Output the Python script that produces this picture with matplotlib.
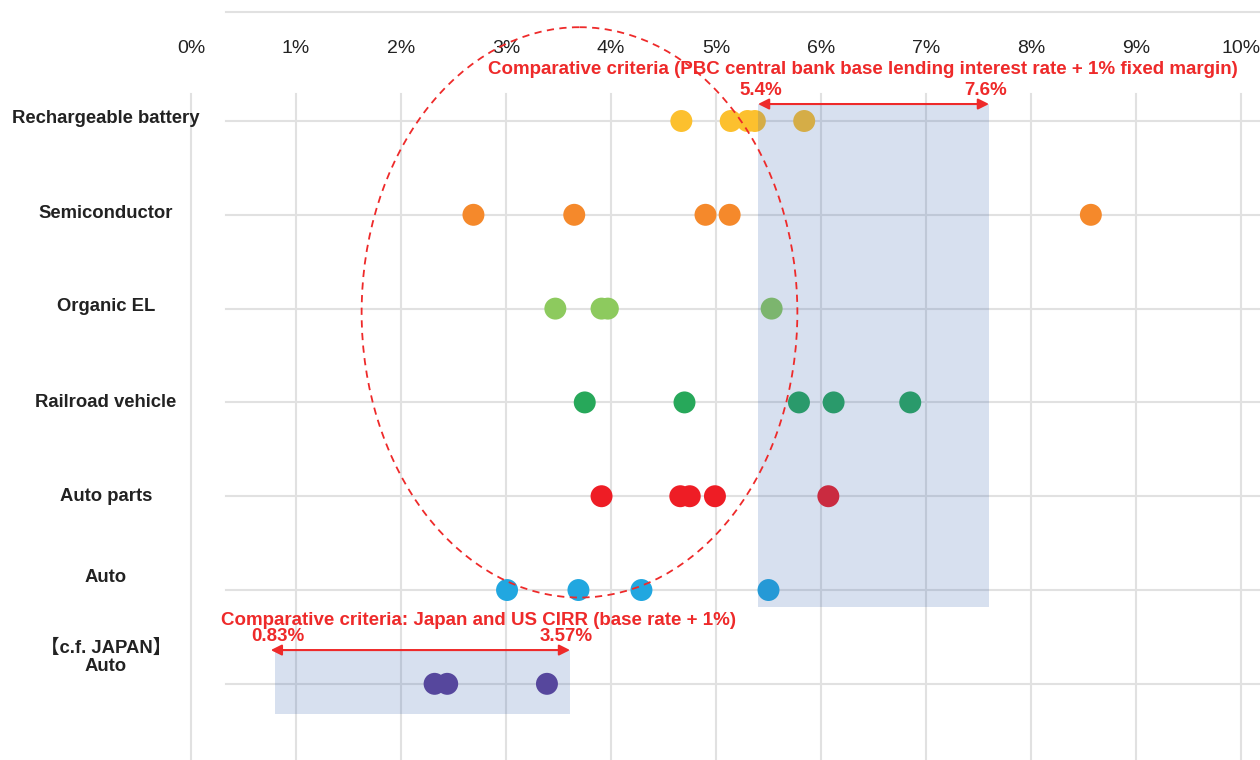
import numpy as np
import matplotlib.pyplot as plt
from matplotlib.patches import Rectangle, Ellipse

plt.rcParams['font.family'] = ['Liberation Sans', 'Noto Sans CJK JP', 'DejaVu Sans']

# interest rates (%) per industry
categories = ['Rechargeable battery', 'Semiconductor', 'Organic EL',
              'Railroad vehicle', 'Auto parts', 'Auto', '【c.f. JAPAN】\nAuto']
battery = [4.67, 5.14, 5.30, 5.37, 5.84]
semiconductor = [2.69, 3.65, 4.90, 5.13, 8.57]
organic_el = [3.47, 3.91, 3.97, 5.53]
railroad = [3.75, 4.70, 5.79, 6.12, 6.85]
auto_parts = [3.91, 4.66, 4.75, 4.99, 6.07]
auto = [3.01, 3.69, 4.29, 5.50]
japan_auto = [2.32, 2.44, 3.39]
series = [battery, semiconductor, organic_el, railroad, auto_parts, auto, japan_auto]
colors = ['#fcc02e', '#f5892b', '#8dca5e', '#27a85a', '#ee1d25', '#21a7e0', '#5d4199']

ticks = np.arange(0, 11)
china_range = (5.4, 7.6)
cirr_range = (0.83, 3.57)
red = '#ee2a2a'

fig = plt.figure(figsize=(12.6, 7.6), dpi=100)
ax = fig.add_axes([0, 0, 1, 1])
ax.set_xlim(-1.819, 10.181)
ax.set_ylim(6.812, -1.290)
ax.axis('off')

grid_c = '#e1e1e1'
# vertical grid and tick labels
for t in ticks:
    ax.plot([t, t], [-0.288, 6.812], color=grid_c, lw=1.5, zorder=0)
    ax.text(t, -0.77, f'{t}%', ha='center', va='center', fontsize=14, color='#222222')
ax.plot([0.333, 10.181], [-1.162, -1.162], color=grid_c, lw=1.5, zorder=0)

# row lines, labels and dots
rows = np.arange(len(categories))
label_y = [-0.03, 0.99, 1.98, 3, 4, 4.87, 5.71]
for r, name, vals, c, ly in zip(rows, categories, series, colors, label_y):
    ax.plot([0.333, 10.181], [r, r], color=grid_c, lw=1.5, zorder=0)
    ax.text(-0.81, ly, name, ha='center', va='center', fontsize=13.3,
            fontweight='bold', color='#222222', linespacing=1.1)
    ax.scatter(vals, [r] * len(vals), s=250, color=c, edgecolors='none', zorder=2)

# shaded comparison ranges (drawn over the dots)
ax.add_patch(Rectangle((china_range[0], -0.181), china_range[1] - china_range[0], 5.18 + 0.181,
                       facecolor='#3a64b0', alpha=0.2, edgecolor='none', zorder=3))
ax.add_patch(Rectangle((cirr_range[0] - 0.03, 5.64), cirr_range[1] - cirr_range[0] + 0.07, 6.32 - 5.64,
                       facecolor='#3a64b0', alpha=0.2, edgecolor='none', zorder=3))

arrow = dict(arrowstyle='<|-|>', color=red, lw=1.5, mutation_scale=16, shrinkA=0, shrinkB=0)
ax.annotate('', xy=(china_range[0], -0.181), xytext=(china_range[1], -0.181),
            arrowprops=arrow, zorder=4)
ax.annotate('', xy=(cirr_range[0] - 0.07, 5.64), xytext=(cirr_range[1] + 0.04, 5.64),
            arrowprops=arrow, zorder=4)

txt = dict(color=red, fontsize=13.5, fontweight='bold', zorder=5)
ax.text(2.83, -0.554, 'Comparative criteria (PBC central bank base lending interest rate + 1% fixed margin)',
        ha='left', va='center', **txt)
ax.text(china_range[0] + 0.03, -0.32, f'{china_range[0]}%', ha='center', va='center', **txt)
ax.text(china_range[1] - 0.03, -0.32, f'{china_range[1]}%', ha='center', va='center', **txt)
ax.text(0.29, 5.33, 'Comparative criteria: Japan and US CIRR (base rate + 1%)',
        ha='left', va='center', **txt)
ax.text(cirr_range[0], 5.50, f'{cirr_range[0]}%', ha='center', va='center', **txt)
ax.text(cirr_range[1], 5.50, f'{cirr_range[1]}%', ha='center', va='center', **txt)

# dashed ellipse around the main cluster
ax.add_patch(Ellipse((3.70, 2.04), 4.15, 6.08, fill=False, edgecolor=red,
                     lw=1.3, linestyle=(0, (4, 3)), zorder=6))

fig.savefig('out.png', dpi=100)
